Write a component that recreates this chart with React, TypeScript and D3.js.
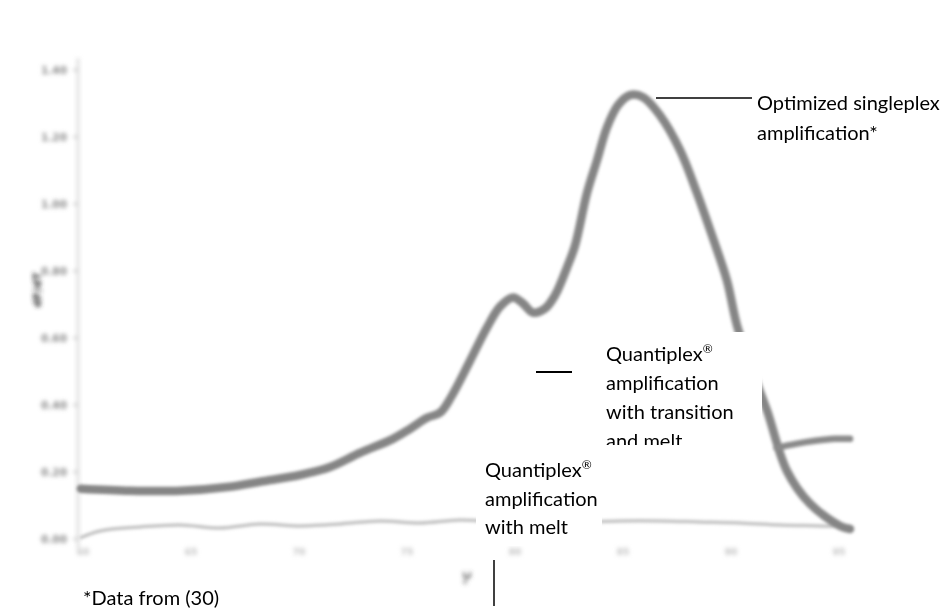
import React from "react";
import * as d3 from "d3";

// Melt-curve derivative (-dF/dT) against temperature, three assays.
const singleplexTemp = [59.9, 62.2, 64.5, 66.8, 68.2, 70.05, 71.44, 72.82, 74.35, 75.14, 75.93, 76.53, 77.08, 77.92, 78.7, 79.31, 79.91, 80.37, 80.83, 81.39, 81.85, 82.41, 82.78, 83.33, 83.8, 84.26, 84.77, 85.32, 85.93, 86.71, 87.64, 88.43, 89.12, 89.81, 90.28, 90.97, 91.67, 92.59, 93.66, 95.05, 95.51];
const singleplexValue = [0.15, 0.144, 0.144, 0.156, 0.171, 0.191, 0.215, 0.257, 0.299, 0.329, 0.362, 0.377, 0.428, 0.532, 0.631, 0.694, 0.721, 0.703, 0.676, 0.688, 0.727, 0.811, 0.876, 1.032, 1.131, 1.229, 1.295, 1.325, 1.319, 1.265, 1.161, 1.032, 0.906, 0.772, 0.637, 0.503, 0.383, 0.203, 0.105, 0.039, 0.03];

const transitionTemp = [92.1, 93.0, 93.9, 94.8, 95.51];
const transitionValue = [0.272, 0.284, 0.293, 0.299, 0.299];

const meltTemp = [59.86, 60.79, 62.64, 64.49, 66.34, 68.19, 70.05, 71.9, 73.75, 75.6, 77.45, 79.31, 81.16, 83.01, 84.86, 86.71, 88.56, 90.42, 92.27, 94.12, 95.51];
const meltValue = [0.003, 0.024, 0.036, 0.042, 0.033, 0.045, 0.039, 0.045, 0.054, 0.048, 0.057, 0.051, 0.054, 0.051, 0.054, 0.054, 0.051, 0.048, 0.042, 0.039, 0.036];

const yTicks = [0, 0.2, 0.4, 0.6, 0.8, 1.0, 1.2, 1.4];
const xTicks = [60, 65, 70, 75, 80, 85, 90, 95];

const singleplexLabel = ["Optimized singleplex", "amplification*"];
const transitionLabel = ["Quantiplex", "amplification", "with transition", "and melt"];
const meltLabel = ["Quantiplex", "amplification", "with melt"];
const footnote = "*Data from (30)";

type Pt = [number, number];
const zip = (xs: number[], ys: number[]): Pt[] => xs.map((t, i) => [t, ys[i]]);

export default function App() {
  const width = 941;
  const height = 610;
  const x = d3.scaleLinear().domain([60, 95]).range([83, 839]);
  const y = d3.scaleLinear().domain([0, 1.4]).range([539, 70]);
  const line = d3
    .line<Pt>()
    .x((d) => x(d[0]))
    .y((d) => y(d[1]))
    .curve(d3.curveCatmullRom.alpha(0.5));

  const font = "Lato, 'Open Sans', sans-serif";
  const labelSize = 20;

  return (
    <svg
      width={width}
      height={height}
      style={{ position: "absolute", left: 0, top: 0, background: "#fff" }}
    >
      <defs>
        <filter id="soft" x="-5%" y="-5%" width="110%" height="110%">
          <feGaussianBlur stdDeviation="1.5" />
        </filter>
        <filter id="softer" x="-10%" y="-10%" width="120%" height="120%">
          <feGaussianBlur stdDeviation="2.2" />
        </filter>
        <clipPath id="transitionClip">
          <rect x={598} y={332} width={164} height={113} />
        </clipPath>
      </defs>

      {/* axis, ticks and titles */}
      <g filter="url(#softer)">
        <line x1={78} x2={78} y1={58} y2={548} stroke="#d0d0d0" strokeWidth={2} />
        {yTicks.map((t) => (
          <g key={"y" + t}>
            <line x1={73} x2={78} y1={y(t)} y2={y(t)} stroke="#c8c8c8" strokeWidth={2} />
            <text
              x={67}
              y={y(t)}
              dy="0.35em"
              textAnchor="end"
              fontFamily="'DejaVu Sans', sans-serif"
              fontSize={10.5}
              fontWeight="bold"
              fill="#8a8a8a"
            >
              {d3.format(".2f")(t)}
            </text>
          </g>
        ))}
        {xTicks.map((t) => (
          <text
            key={"x" + t}
            x={x(t)}
            y={552}
            dy="0.35em"
            textAnchor="middle"
            fontFamily="'DejaVu Sans', sans-serif"
            fontSize={9}
            fontWeight="bold"
            fill="#c0c0c0"
          >
            {t}
          </text>
        ))}
        <text
          transform="translate(37,290) rotate(-90)"
          textAnchor="middle"
          dy="0.35em"
          fontFamily="'DejaVu Sans', sans-serif"
          fontSize={11}
          fontWeight="bold"
          fill="#333"
        >
          dF/dT
        </text>
        <text
          transform="translate(467,578) rotate(-90)"
          textAnchor="middle"
          dy="0.35em"
          fontFamily="'DejaVu Sans', sans-serif"
          fontSize={11}
          fontWeight="bold"
          fill="#555"
        >
          °C
        </text>
      </g>

      {/* curves */}
      <g filter="url(#soft)">
        <path d={line(zip(meltTemp, meltValue)) ?? ""} fill="none" stroke="#c4c4c4" strokeWidth={3.5} />
        <path d={line(zip(singleplexTemp, singleplexValue)) ?? ""} fill="none" stroke="#858585" strokeWidth={8.5} strokeLinecap="round" />
        <path d={line(zip(transitionTemp, transitionValue)) ?? ""} fill="none" stroke="#8a8a8a" strokeWidth={6.5} strokeLinecap="round" />
      </g>

      {/* label boxes sit on top of the curves */}
      <rect x={598} y={332} width={164} height={113} fill="#fff" />
      <rect x={476} y={452} width={126} height={94} fill="#fff" />

      {/* leader lines */}
      <line x1={656} x2={752} y1={98} y2={98} stroke="#000" strokeWidth={1.5} />
      <line x1={536} x2={572} y1={372} y2={372} stroke="#000" strokeWidth={2} />
      <line x1={494} x2={494} y1={560} y2={606} stroke="#000" strokeWidth={1.5} />

      <g fontFamily={font} fontSize={labelSize} fill="#000">
        {singleplexLabel.map((s, i) => (
          <text key={s} x={757} y={110 + i * 30}>
            {s}
          </text>
        ))}
        <g clipPath="url(#transitionClip)">
          {transitionLabel.map((s, i) => (
            <text key={s} x={606} y={361 + i * 29}>
              {s}
              {i === 0 ? (
                <tspan dy={-8} fontSize={12}>
                  ®
                </tspan>
              ) : null}
            </text>
          ))}
        </g>
        {meltLabel.map((s, i) => (
          <text key={s} x={485} y={477 + i * 28.5}>
            {s}
            {i === 0 ? (
              <tspan dy={-8} fontSize={12}>
                ®
              </tspan>
            ) : null}
          </text>
        ))}
        <text x={83} y={605}>
          {footnote}
        </text>
      </g>
    </svg>
  );
}
